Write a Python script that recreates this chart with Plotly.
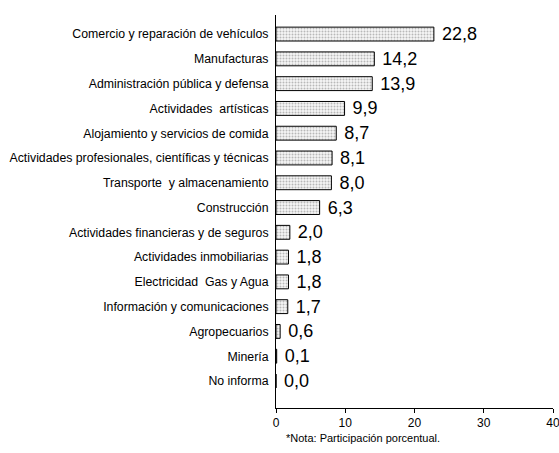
import plotly.graph_objects as go

categories = [
    "Comercio y reparación de vehículos",
    "Manufacturas",
    "Administración pública y defensa",
    "Actividades  artísticas",
    "Alojamiento y servicios de comida",
    "Actividades profesionales, científicas y técnicas",
    "Transporte  y almacenamiento",
    "Construcción",
    "Actividades financieras y de seguros",
    "Actividades inmobiliarias",
    "Electricidad  Gas y Agua",
    "Información y comunicaciones",
    "Agropecuarios",
    "Minería",
    "No informa",
]
values = [22.8, 14.2, 13.9, 9.9, 8.7, 8.1, 8.0, 6.3, 2.0, 1.8, 1.8, 1.7, 0.6, 0.1, 0.0]
value_labels = ["\u00a0" + f"{v:.1f}".replace(".", ",") for v in values]
x_ticks = [0, 10, 20, 30, 40]

fig = go.Figure(go.Bar(
    x=values, y=categories, orientation="h",
    text=value_labels, textposition="outside", cliponaxis=False,
    constraintext="none",
    textfont=dict(size=18, color="black", family="Liberation Sans, Arial"),
    marker=dict(color="white", line=dict(color="black", width=1),
                pattern=dict(shape=".", fgcolor="#7a7a7a", bgcolor="#f6f6f6", size=3, solidity=0.35)),
    width=0.56,
))

fig.update_layout(
    width=559, height=453,
    margin=dict(l=276, r=6, t=15, b=45),
    plot_bgcolor="white", paper_bgcolor="white",
    showlegend=False,
    font=dict(family="Liberation Sans, Arial", size=12, color="black"),
    xaxis=dict(range=[0, 40], tickvals=x_ticks, showgrid=False, zeroline=False,
               showline=True, linecolor="black", linewidth=1, automargin=False,
               ticks="outside", ticklen=4, tickcolor="black",
               ticklabeloverflow="allow", tickfont=dict(size=12)),
    yaxis=dict(categoryorder="array", categoryarray=categories,
               range=[15.09, -0.77], showgrid=False, zeroline=False,
               showline=True, linecolor="black", linewidth=1, automargin=False,
               ticks="", ticklabelstandoff=4, tickfont=dict(size=12.3)),
    annotations=[dict(text="*Nota: Participación porcentual.", xref="paper", yref="paper",
                      x=0.03, y=-0.056, xanchor="left", yanchor="top", showarrow=False,
                      font=dict(size=11))],
)

fig.write_html("out.html", config={"displayModeBar": False},
               post_script="document.body.style.margin='0';")
